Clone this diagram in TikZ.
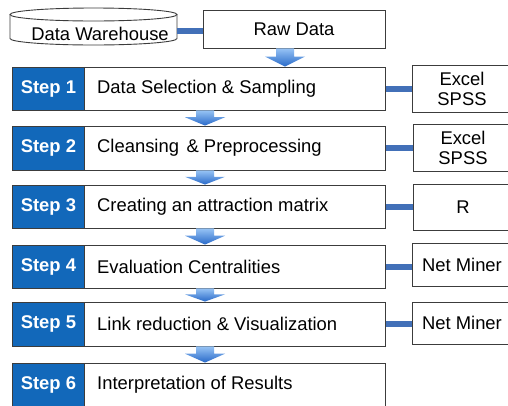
\documentclass[tikz,border=0pt]{standalone}
\usepackage{fontspec}
\setmainfont{Liberation Sans}
\usetikzlibrary{calc}
\definecolor{stepblue}{RGB}{18,104,186}
\definecolor{connblue}{RGB}{66,112,184}
\definecolor{arrtop}{RGB}{150,195,245}
\definecolor{arrbot}{RGB}{40,105,200}
\definecolor{edgecol}{RGB}{60,60,60}
\tikzset{
  wbox/.style={draw=edgecol, line width=0.9pt, fill=white, inner sep=0pt},
  stepbox/.style={draw=edgecol, line width=0.9pt, fill=stepblue, text=white,
    font=\bfseries\fontsize{18.4}{20}\selectfont, inner sep=0pt, minimum width=72},
  toolbox/.style={wbox, minimum width=100, align=center, font=\fontsize{18.4}{20}\selectfont},
  conn/.style={line width=6pt, draw=connblue},
  arr/.style={top color=arrtop, bottom color=arrbot, draw=none},
  txt/.style={font=\fontsize{18.4}{20}\selectfont, inner sep=0pt}
}
\newcommand\flowarrow[3]{%
  \coordinate (fa-a) at (#1,0 |- #2.south);
  \coordinate (fa-b) at (#1,0 |- #3.north);
  \coordinate (fa-m) at ($(fa-a)!0.45!(fa-b)$);
  \shade[arr] ($(fa-a)+(-9,0)$) -- ($(fa-a)+(9,0)$) -- ($(fa-m)+(9,0)$) -- ($(fa-m)+(20,0)$)
    -- (fa-b) -- ($(fa-m)+(-20,0)$) -- ($(fa-m)+(-9,0)$) -- cycle;
}
\begin{document}
\begin{tikzpicture}[x=1pt,y=-1pt]
\useasboundingbox (0,0) rectangle (508,405);
\clip (0,0) rectangle (508,405);
\fill[white] (0,0) rectangle (508,405);

% cylinder
\draw[draw=edgecol, line width=0.9pt, fill=white]
  (10,14.5) -- (10,38.5) arc[start angle=180, end angle=360, x radius=83.5pt, y radius=6.5pt]
  -- (177,14.5);
\draw[draw=edgecol, line width=0.9pt, fill=white] (93.5,14.5) ellipse [x radius=83.5pt, y radius=6.5pt];
\coordinate (dwr) at (177,31);
\node[txt] (dw) at (100,33.5) {Data Warehouse};

\node[wbox, txt, minimum width=182, minimum height=38] (raw) at (294,29) {Raw Data};
\draw[conn] (dwr) -- (dwr -| raw.west);

% rows
\foreach \i/\c/\h/\t in {1/88.5/43/Data Selection \& Sampling,
                         2/148/44/Cleansing\hspace{2.5pt} \& Preprocessing,
                         3/206.5/43/Creating an attraction matrix,
                         4/266.5/43/Evaluation Centralities,
                         5/324/44/Link reduction \& Visualization,
                         6/385/44/Interpretation of Results}{
  \node[wbox, minimum width=373, minimum height=\h, anchor=west] (w\i) at (12,\c) {};
  \node[stepbox, minimum height=\h, anchor=west] (s\i) at (12,\c) {Step \i};
  \node[txt, anchor=west] (t\i) at (97,\c) {\t};
}

% tool boxes
\node[toolbox, minimum height=47] (r1) at (462,88.5) {Excel\\SPSS};
\node[toolbox, minimum height=47] (r2) at (463,147.5) {Excel\\SPSS};
\node[toolbox, minimum height=46] (r3) at (463,207) {R};
\node[toolbox, minimum height=43] (r4) at (462,264.5) {Net Miner};
\node[toolbox, minimum height=42] (r5) at (462,323) {Net Miner};

\foreach \i in {1,...,5}{ \draw[conn] (w\i.east) -- (w\i.east -| r\i.west); }

% arrows
\flowarrow{285}{raw}{w1}
\flowarrow{205}{w1}{w2}
\flowarrow{205}{w2}{w3}
\flowarrow{205}{w3}{w4}
\flowarrow{205}{w4}{w5}
\flowarrow{205}{w5}{w6}
\end{tikzpicture}
\end{document}
